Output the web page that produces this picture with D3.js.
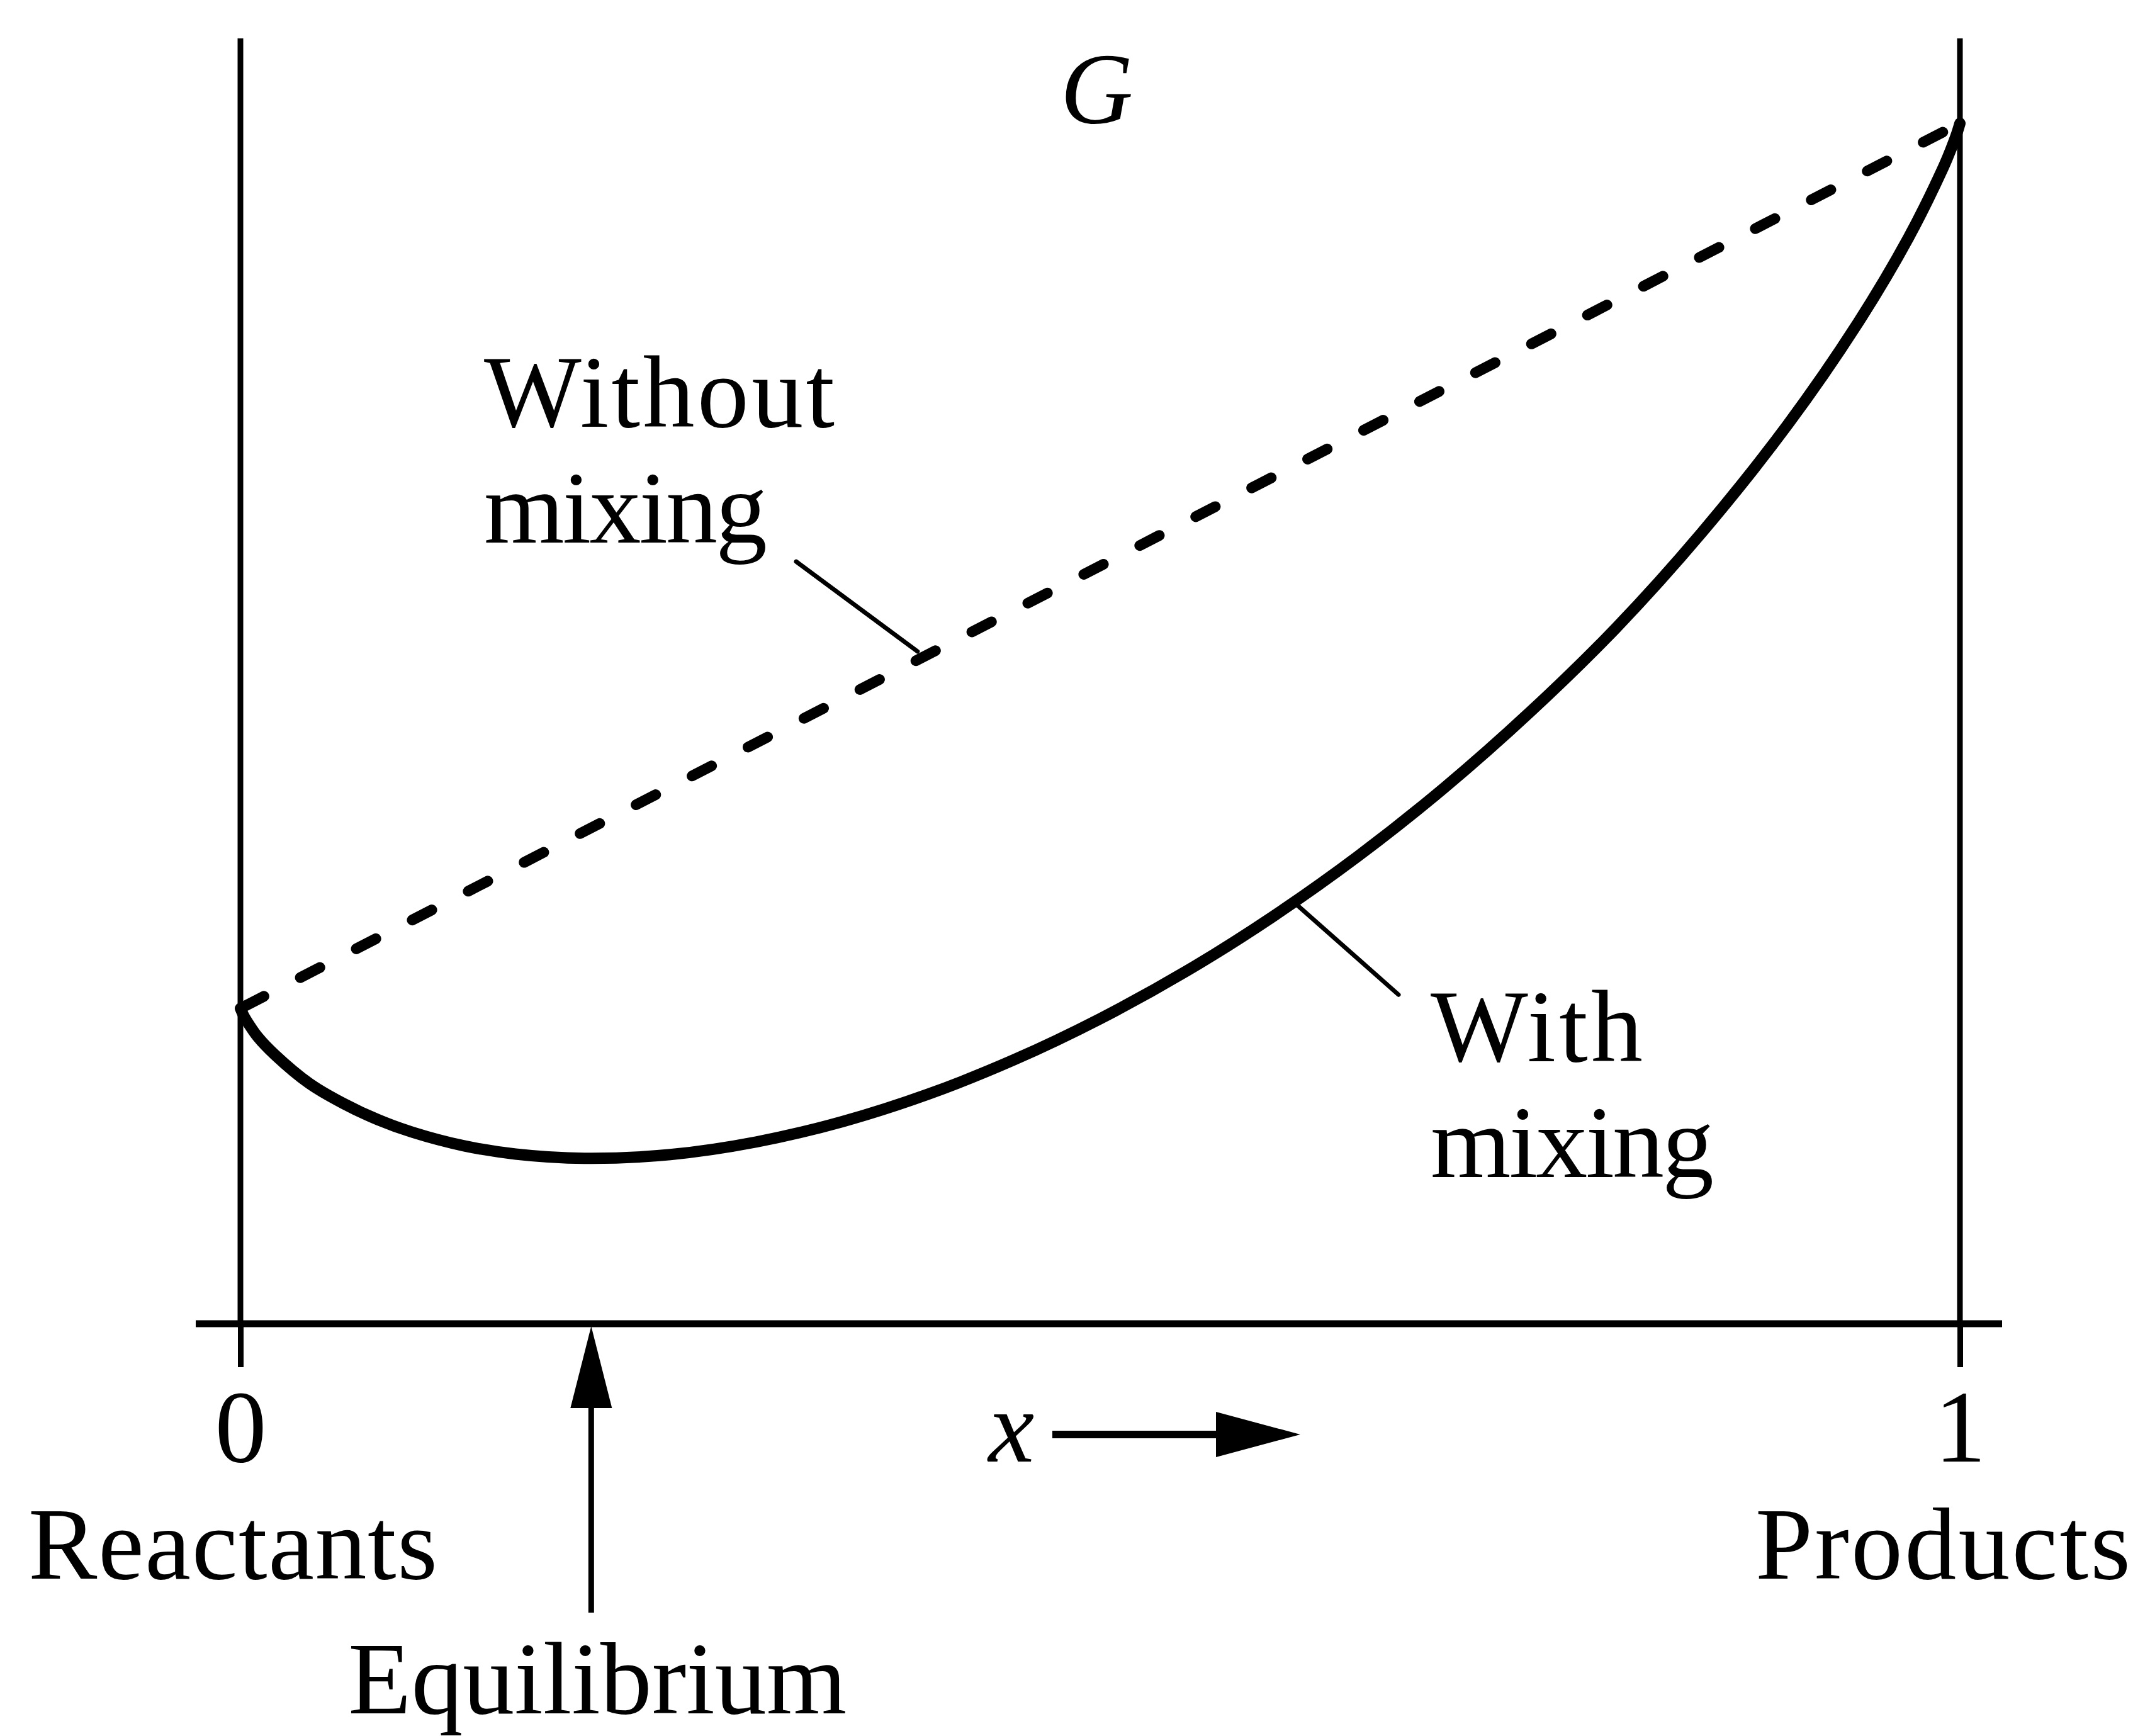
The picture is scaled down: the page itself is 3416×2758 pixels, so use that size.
<!DOCTYPE html>
<html>
<head>
<meta charset="utf-8">
<script src="https://cdn.jsdelivr.net/npm/d3@7"></script>
<style>
  html, body { margin: 0; padding: 0; background: #ffffff; }
  svg { display: block; }
</style>
</head>
<body>
<script>
// ---------------- data ----------------
const xTickValues = [0, 1];
const xTickLabels = ["0", "1"];
const endLabels = ["Reactants", "Products"];
const yLabel = "G";
const xLabel = "x";
const equilibriumLabel = "Equilibrium";
const xEquilibrium = 0.204;

// Gibbs energy without mixing (straight line between pure reactants and pure products)
const withoutMixingX = [0, 1];
const withoutMixingG = [2.453, 9.339];

// Gibbs energy with mixing
const withMixingX = [0, 0.002, 0.005, 0.01, 0.02, 0.04, 0.06, 0.08, 0.10, 0.13, 0.16, 0.20,
                     0.25, 0.30, 0.35, 0.40, 0.45, 0.50, 0.55, 0.60, 0.65, 0.70, 0.75, 0.80,
                     0.85, 0.90, 0.94, 0.97, 0.99, 0.995, 0.998, 1];
const withMixingG = [2.453, 2.394, 2.328, 2.233, 2.093, 1.870, 1.713, 1.587, 1.490, 1.384, 1.320, 1.287,
                     1.316, 1.414, 1.572, 1.786, 2.054, 2.373, 2.742, 3.164, 3.638, 4.168, 4.759, 5.413,
                     6.157, 6.998, 7.772, 8.447, 8.986, 9.145, 9.252, 9.339];

const seriesLabels = [["Without", "mixing"], ["With", "mixing"]];
// annotation anchors in data space: label line start, leader start/end
const labelAnchorX = [0.1417, 0.6922];
const labelAnchorG = [6.98, 2.04];
const leaderFromX = [0.3232, 0.6135];
const leaderFromG = [5.93, 3.27];
const leaderToX = [0.3938, 0.6735];
const leaderToG = [5.23, 2.56];

// ---------------- layout ----------------
const W = 3416, H = 2758;
const serif = "'Liberation Serif', 'Times New Roman', serif";
const fontSize = 164;

const svg = d3.select("body").append("svg")
  .attr("width", W).attr("height", H)
  .attr("viewBox", `0 0 ${W} ${H}`);
svg.append("rect").attr("width", W).attr("height", H).attr("fill", "#fff");

const xScale = d3.scaleLinear().domain([0, 1]).range([382, 3114]);
const yScale = d3.scaleLinear().domain([0, 10]).range([2103, 61]);

// vertical frame lines at x = 0 and x = 1
svg.append("g").selectAll("line").data(xTickValues).join("line")
  .attr("x1", d => xScale(d)).attr("x2", d => xScale(d))
  .attr("y1", yScale(10)).attr("y2", yScale(0))
  .attr("stroke", "#000").attr("stroke-width", 9);

// horizontal axis line (extends a little beyond both frame lines)
svg.append("line")
  .attr("x1", xScale(0) - 71).attr("x2", xScale(1) + 67)
  .attr("y1", yScale(0)).attr("y2", yScale(0))
  .attr("stroke", "#000").attr("stroke-width", 11);

// axis ticks & labels
const axis = d3.axisBottom(xScale)
  .tickValues(xTickValues)
  .tickSize(69)
  .tickFormat((d, i) => xTickLabels[i]);
const gAxis = svg.append("g")
  .attr("transform", `translate(0,${yScale(0)})`)
  .call(axis);
gAxis.select(".domain").remove();
gAxis.selectAll(".tick line").attr("stroke", "#000").attr("stroke-width", 9);
gAxis.selectAll(".tick text")
  .attr("y", 219).attr("dy", 0)
  .attr("fill", "#000")
  .style("font-family", serif)
  .style("font-size", fontSize + "px");
gAxis.attr("font-family", null).attr("font-size", null);

// end labels: Reactants / Products
const endOffsets = [-12, -27];
const endLengths = [650, 596];
svg.append("g").selectAll("text").data(endLabels).join("text")
  .attr("x", (d, i) => xScale(xTickValues[i]) + endOffsets[i])
  .attr("y", 2508)
  .attr("text-anchor", "middle")
  .attr("textLength", (d, i) => endLengths[i])
  .attr("lengthAdjust", "spacing")
  .style("font-family", serif).style("font-size", fontSize + "px")
  .attr("fill", "#000")
  .text(d => d);

// without-mixing dashed line
const lineGen = d3.line()
  .x(d => xScale(d[0]))
  .y(d => yScale(d[1]));
svg.append("path")
  .datum(withoutMixingX.map((x, i) => [x, withoutMixingG[i]]))
  .attr("d", lineGen)
  .attr("fill", "none").attr("stroke", "#000")
  .attr("stroke-width", 17)
  .attr("stroke-linecap", "round")
  .attr("stroke-dasharray", "35,65")
  .attr("stroke-dashoffset", -7);

// with-mixing curve
const curveGen = d3.line()
  .x(d => xScale(d[0]))
  .y(d => yScale(d[1]))
  .curve(d3.curveCatmullRom.alpha(0.5));
svg.append("path")
  .datum(withMixingX.map((x, i) => [x, withMixingG[i]]))
  .attr("d", curveGen)
  .attr("fill", "none").attr("stroke", "#000")
  .attr("stroke-width", 18)
  .attr("stroke-linejoin", "round")
  .attr("stroke-linecap", "round");

// leader lines
svg.append("g").selectAll("line").data(seriesLabels).join("line")
  .attr("x1", (d, i) => xScale(leaderFromX[i])).attr("y1", (d, i) => yScale(leaderFromG[i]))
  .attr("x2", (d, i) => xScale(leaderToX[i])).attr("y2", (d, i) => yScale(leaderToG[i]))
  .attr("stroke", "#000").attr("stroke-width", 7).attr("stroke-linecap", "round");

// series labels (two lines each)
const lineLengths = [[557, 450], [337, 450]];
const lineSpacing = 184;
const lbl = svg.append("g").selectAll("g").data(seriesLabels).join("g");
lbl.each(function (lines, i) {
  d3.select(this).selectAll("text").data(lines).join("text")
    .attr("x", xScale(labelAnchorX[i]))
    .attr("y", (d, j) => yScale(labelAnchorG[i]) + j * lineSpacing)
    .attr("textLength", (d, j) => lineLengths[i][j])
    .attr("lengthAdjust", "spacing")
    .style("font-family", serif).style("font-size", fontSize + "px")
    .attr("fill", "#000")
    .text(d => d);
});

// y label G
svg.append("text")
  .attr("x", xScale(0.498)).attr("y", yScale(withoutMixingG[1]))
  .attr("text-anchor", "middle")
  .style("font-family", serif).style("font-style", "italic")
  .style("font-size", "160px")
  .attr("fill", "#000")
  .text(yLabel);

// x label with arrow
const xLabelX = 1607, xArrowY = 2279;
svg.append("text")
  .attr("x", xLabelX).attr("y", 2322)
  .attr("text-anchor", "middle")
  .style("font-family", serif).style("font-style", "italic")
  .style("font-size", fontSize + "px")
  .attr("fill", "#000")
  .text(xLabel);
svg.append("line")
  .attr("x1", 1672).attr("x2", 1940)
  .attr("y1", xArrowY).attr("y2", xArrowY)
  .attr("stroke", "#000").attr("stroke-width", 12);
svg.append("path")
  .attr("d", `M1932,${xArrowY - 36} L2066,${xArrowY} L1932,${xArrowY + 36} Z`)
  .attr("fill", "#000");

// equilibrium arrow
const ex = xScale(xEquilibrium);
svg.append("line")
  .attr("x1", ex).attr("x2", ex)
  .attr("y1", 2562).attr("y2", 2230)
  .attr("stroke", "#000").attr("stroke-width", 9);
svg.append("path")
  .attr("d", `M${ex},${yScale(0) + 4} L${ex + 33},2237 L${ex - 33},2237 Z`)
  .attr("fill", "#000");
svg.append("text")
  .attr("x", ex + 10).attr("y", 2722)
  .attr("text-anchor", "middle")
  .attr("textLength", 792)
  .attr("lengthAdjust", "spacing")
  .style("font-family", serif).style("font-size", fontSize + "px")
  .attr("fill", "#000")
  .text(equilibriumLabel);
</script>
</body>
</html>
